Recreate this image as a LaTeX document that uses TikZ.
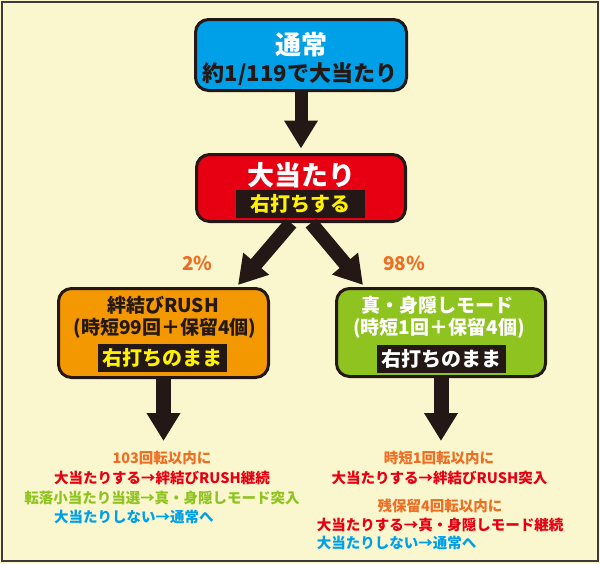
\documentclass[tikz,border=0pt]{standalone}
\usepackage{fontspec}
\setmainfont{Noto Sans CJK JP}
\usetikzlibrary{arrows.meta}
\definecolor{cream}{HTML}{FAF7CE}
\definecolor{frame}{HTML}{3E3A39}
\definecolor{ink}{HTML}{231815}
\definecolor{sky}{HTML}{00A0E9}
\definecolor{crimson}{HTML}{E60012}
\definecolor{amber}{HTML}{F39800}
\definecolor{leaf}{HTML}{8FC31F}
\definecolor{lemon}{HTML}{FFF100}
\definecolor{tangerine}{HTML}{EE6E24}
\newcommand{\fs}[1]{\fontsize{#1}{#1}\selectfont\bfseries}

\begin{document}
\begin{tikzpicture}[x=1pt,y=-1pt,
    box/.style={draw=ink,line width=3pt,rounded corners=13pt,outer sep=0pt},
    bar/.style={fill=ink,minimum width=129pt,minimum height=28pt,font=\fs{20}},
    note/.style={font=\fs{14.5}},
    fat/.style={draw=ink,line width=13pt,-{Triangle[width=32pt,length=28pt]}}]
    \tikzstyle{every node}+=[inner sep=0pt]
    \useasboundingbox (0,0) rectangle (600,563);
    \fill [cream] (0,0) rectangle (600,563);
    \draw [frame,line width=2pt] (2,1.5) rectangle (598,560.5);
    \node (normal) [box,fill=sky,minimum width=211pt,minimum height=71pt] at (301,55) {};
    \node (normaltitle) [white,font=\fs{26}] at (301,45) {通常};
    \node (normalodds) [ink,font=\fs{22}] at (300,74) {約1/119で大当たり};
    \node (hit) [box,fill=crimson,minimum width=209pt,minimum height=67pt] at (301,188) {};
    \node (hittitle) [white,font=\fs{27}] at (301,175) {大当たり};
    \node (hitbar) [bar,text=lemon] at (300.5,204) {右打ちする};
    \node (rush) [box,fill=amber,minimum width=210pt,minimum height=89pt] at (163.5,333) {};
    \node (rushtitle) [ink,font=\fs{19}] at (163,305) {絆結びRUSH};
    \node (rushspins) [ink,font=\fs{19}] at (165,328) {(時短99回＋保留4個)};
    \node (rushbar) [bar,text=lemon] at (162.5,358) {右打ちのまま};
    \node (mode) [box,fill=leaf,minimum width=209pt,minimum height=88pt] at (441,332.5) {};
    \node (modetitle) [white,font=\fs{19}] at (437.5,305) {真・身隠しモード};
    \node (modespins) [white,font=\fs{19}] at (439,328) {(時短1回＋保留4個)};
    \node (modebar) [bar,text=white] at (441.5,358.5) {右打ちのまま};
    \node (leftpct) [tangerine,font=\fs{19}] at (197.5,263) {2\%};
    \node (rightpct) [tangerine,font=\fs{19}] at (404,263) {98\%};
    \coordinate (rushend) at (238,285);
    \coordinate (modeend) at (363,285);
    \coordinate (rushdown) at (163.5,441);
    \coordinate (modedown) at (441,441);
    \draw [fat] (normal) -- ([yshift=6pt]hit.north);
    \draw [fat,line width=14pt] ([xshift=-10pt,yshift=-1.5pt]hit.south) -- (rushend);
    \draw [fat,line width=14pt] ([xshift=10pt,yshift=-1.5pt]hit.south) -- (modeend);
    \draw [fat,line width=15pt] (rush) -- (rushdown);
    \draw [fat,line width=15pt] (mode) -- (modedown);
    \node (rushnote1) [note,tangerine] at (162,458) {103回転以内に};
    \node (rushnote2) [note,crimson] at (162,478) {大当たりする→絆結びRUSH継続};
    \node (rushnote3) [note,leaf] at (162,498) {転落小当たり当選→真・身隠しモード突入};
    \node (rushnote4) [note,sky,anchor=west] at ([yshift=-39pt]rushnote2.west) {大当たりしない→通常へ};
    \node (modenote1) [note,tangerine] at (439,458) {時短1回転以内に};
    \node (modenote2) [note,crimson] at (439.5,478) {大当たりする→絆結びRUSH突入};
    \node (modenote3) [note,tangerine] at (440,506) {残保留4回転以内に};
    \node (modenote4) [note,crimson] at (440,525) {大当たりする→真・身隠しモード継続};
    \node (modenote5) [note,sky,anchor=west] at ([yshift=-18pt]modenote4.west) {大当たりしない→通常へ};
\end{tikzpicture}
\end{document}
